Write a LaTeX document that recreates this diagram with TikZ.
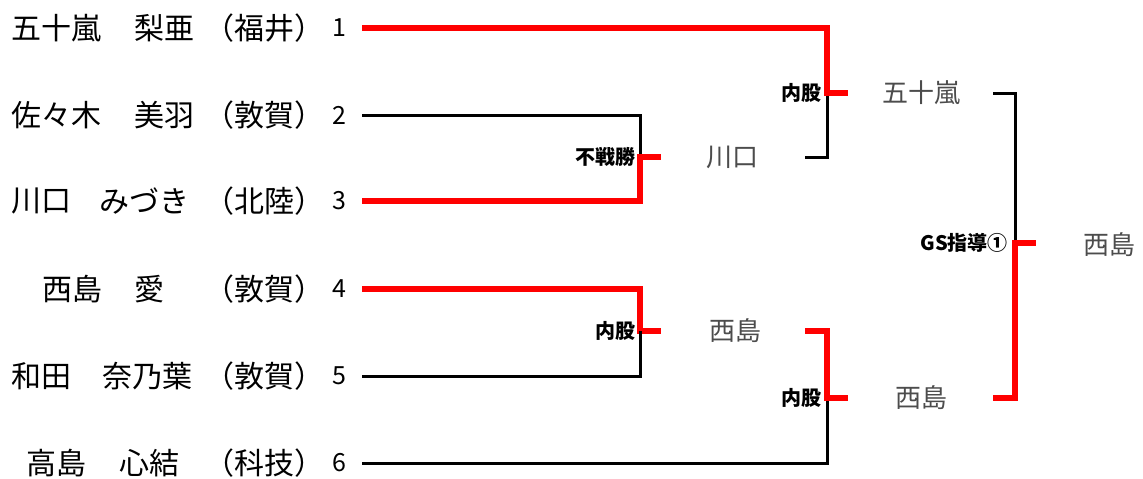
\documentclass[tikz,border=0pt]{standalone}
\usepackage{fontspec}
\setmainfont{Noto Sans CJK JP}
\usetikzlibrary{positioning}
\tikzset{
  win/.style={red,line width=6.5pt},
  lose/.style={black,line width=3pt},
  player/.style={anchor=west,inner sep=0pt,font=\fontsize{30}{32}\selectfont},
  seed/.style={inner sep=0pt,font=\fontsize{25}{27}\selectfont},
  winner/.style={inner sep=0pt,text=black!70,font=\fontsize{26}{28}\selectfont},
  result/.style={inner sep=0pt,font=\bfseries\fontsize{20}{22}\selectfont},
}
\begin{document}
\begin{tikzpicture}[x=1pt,y=-1pt]
\useasboundingbox (0,0) rectangle (1143,479);
% players
\node[player] (a1) at (11,28) {五十嵐};
\node[player] (b1) at (134,28) {梨亜};
\node[player] (c1) at (204,28) {（福井）};
\node[seed] (p1) at (339,28) {1};
\node[player] (a2) at (11,115) {佐々木};
\node[player] (b2) at (134,115) {美羽};
\node[player] (c2) at (204,115) {（敦賀）};
\node[seed] (p2) at (339,115) {2};
\node[player] (a3) at (11,201) {川口};
\node[player] (b3) at (99,201) {みづき};
\node[player] (c3) at (204,201) {（北陸）};
\node[seed] (p3) at (339,201) {3};
\node[player] (a4) at (42,289) {西島};
\node[player] (b4) at (134,289) {愛};
\node[player] (c4) at (204,289) {（敦賀）};
\node[seed] (p4) at (339,289) {4};
\node[player] (a5) at (11,376) {和田};
\node[player] (b5) at (102,376) {奈乃葉};
\node[player] (c5) at (204,376) {（敦賀）};
\node[seed] (p5) at (339,376) {5};
\node[player] (a6) at (26,463) {高島};
\node[player] (b6) at (119,463) {心結};
\node[player] (c6) at (204,463) {（科技）};
\node[seed] (p6) at (339,463) {6};
% line starts
\coordinate (s1) at (362,28);
\coordinate (s2) at (362,115);
\coordinate (s3) at (362,201);
\coordinate (s4) at (362,289);
\coordinate (s5) at (362,376);
\coordinate (s6) at (362,463);
% bracket joints
\coordinate (m1) at (640,157);
\coordinate (m2) at (640,331);
\coordinate (m3) at (827,93);
\coordinate (m4) at (827,398);
\coordinate (m5) at (1015,243);
% winners
\node[winner] (w1) at (732,157) {川口};
\node[winner] (w2) at (735,331) {西島};
\node[winner] (w3) at (921,93) {五十嵐};
\node[winner] (w4) at (921,398) {西島};
\node[winner] (w5) at (1109,245) {西島};
\coordinate (o1) at (805,157);
\coordinate (o2) at (805,331);
\coordinate (o3) at (993,93);
\coordinate (o4) at (993,398);
% results
\node[result,left=4pt of m1] (r1) {不戦勝};
\node[result,left=4pt of m2] (r2) {内股};
\node[result,left=5pt of m3] (r3) {内股};
\node[result,left=5pt of m4] (r4) {内股};
\node[result,left=7pt of m5] (r5) {GS指導①};
% first round
\draw[lose] (s2) -| (m1);
\draw[win] (s3) -| (m1) -- ++(21,0);
\draw[win] (s4) -| (m2) -- ++(21,0);
\draw[lose] (s5) -| (m2);
% semi finals
\draw[lose] (o1) -| (m3);
\draw[win] (s1) -| (m3) -- ++(21,0);
\draw[lose] (s6) -| (m4);
\draw[win] (o2) -| (m4) -- ++(21,0);
% final
\draw[lose] (o3) -| (m5);
\draw[win] (o4) -| (m5) -- ++(21,0);
\end{tikzpicture}
\end{document}
